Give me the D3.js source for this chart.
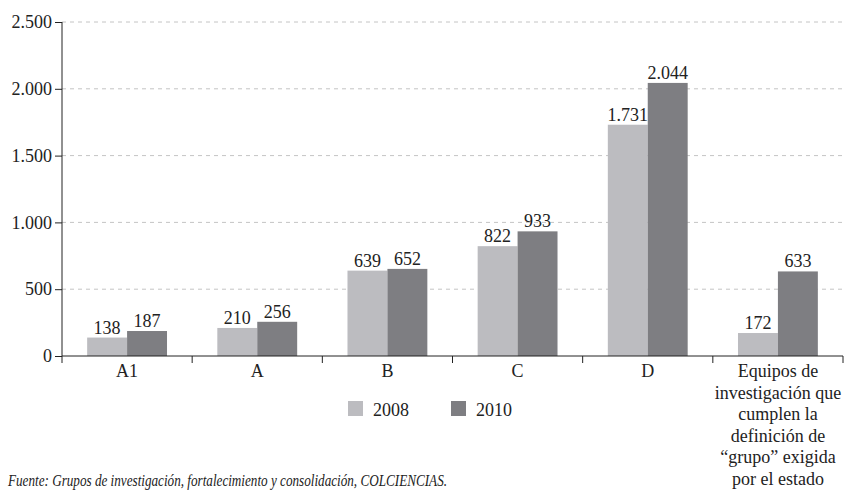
<!DOCTYPE html>
<html>
<head>
<meta charset="utf-8">
<script src="https://cdn.jsdelivr.net/npm/d3@7"></script>
<style>
  html, body { margin: 0; padding: 0; background: #fff; }
  svg { display: block; font-family: "Liberation Serif", "DejaVu Serif", serif; }
</style>
</head>
<body>
<svg id="chart" width="844" height="491"></svg>
<script>
// Research groups by category, 2008 vs 2010
const categories = ["A1", "A", "B", "C", "D",
  "Equipos de|investigación que|cumplen la|definición de|“grupo” exigida|por el estado"];
const series = ["2008", "2010"];
const values2008 = [138, 210, 639, 822, 1731, 172];
const values2010 = [187, 256, 652, 933, 2044, 633];
const yTicks = [0, 500, 1000, 1500, 2000, 2500];
const colors = ["#bcbcc0", "#7e7e82"];
const source = "Fuente: Grupos de investigación, fortalecimiento y consolidación, COLCIENCIAS.";

(function draw() {
  const svg = d3.select("#chart");
  const mLeft = 62, mRight = 843, mTop = 22, mBottom = 356;

  const fmt = d => d3.format(",")(d).replace(/,/g, ".");

  const x = d3.scaleBand().domain(d3.range(categories.length)).range([mLeft, mRight])
    .paddingInner(0).paddingOuter(0);
  const x1 = d3.scaleBand().domain(series).range([0, x.bandwidth()]).paddingInner(0)
    .paddingOuter(0.63);
  const y = d3.scaleLinear().domain([0, 2500]).range([mBottom, mTop]);

  // dashed gridlines
  svg.append("g").selectAll("line").data(yTicks.filter(d => d > 0)).join("line")
    .attr("x1", mLeft).attr("x2", 844)
    .attr("y1", d => y(d)).attr("y2", d => y(d))
    .attr("stroke", "#c4c4c4").attr("stroke-width", 1).attr("stroke-dasharray", "4,4");

  // bars
  const data = categories.map((c, i) => ({ i, vals: [values2008[i], values2010[i]] }));
  const groups = svg.append("g").selectAll("g").data(data).join("g")
    .attr("transform", d => `translate(${x(d.i)},0)`);
  groups.selectAll("rect").data(d => d.vals.map((v, k) => ({ v, k }))).join("rect")
    .attr("x", d => x1(series[d.k]))
    .attr("width", x1.bandwidth())
    .attr("y", d => y(d.v))
    .attr("height", d => y(0) - y(d.v))
    .attr("fill", d => colors[d.k]);
  groups.selectAll("text").data(d => d.vals.map((v, k) => ({ v, k }))).join("text")
    .attr("x", d => x1(series[d.k]) + x1.bandwidth() / 2)
    .attr("y", d => y(d.v) - 4)
    .attr("text-anchor", "middle")
    .attr("font-size", 18).attr("fill", "#222")
    .text(d => fmt(d.v));

  // y axis
  const yAxis = d3.axisLeft(y).tickValues(yTicks).tickFormat(fmt).tickSize(7).tickPadding(3);
  const gy = svg.append("g").attr("transform", `translate(${mLeft},0)`).call(yAxis);
  gy.select(".domain").attr("stroke", "#222").attr("d", `M0,${mTop}V${mBottom + 7}`);
  gy.selectAll(".tick line").attr("stroke", "#222");
  gy.selectAll(".tick text").attr("font-size", 18).attr("fill", "#222")
    .attr("font-family", "Liberation Serif, serif");

  // x axis baseline and boundary ticks
  const gx = svg.append("g");
  gx.append("line").attr("x1", mLeft).attr("x2", mRight).attr("y1", y(0)).attr("y2", y(0))
    .attr("stroke", "#222");
  gx.selectAll("line.b").data(d3.range(1, categories.length + 1)).join("line")
    .attr("class", "b")
    .attr("x1", d => d === categories.length ? mRight : x(d))
    .attr("x2", d => d === categories.length ? mRight : x(d))
    .attr("y1", y(0)).attr("y2", y(0) + 7).attr("stroke", "#222");

  // category labels
  const lab = gx.selectAll("text").data(categories).join("text")
    .attr("text-anchor", "middle").attr("font-size", 18).attr("fill", "#222")
    .attr("x", (d, i) => x(i) + x.bandwidth() / 2);
  lab.each(function(d) {
    const cx = d3.select(this).attr("x");
    d3.select(this).selectAll("tspan").data(d.split("|")).join("tspan")
      .attr("x", cx)
      .attr("y", (l, j) => 377 + j * 21.6)
      .text(l => l);
  });

  // legend
  const leg = svg.append("g").selectAll("g").data(series).join("g")
    .attr("transform", (d, i) => `translate(${348 + i * 103},401)`);
  leg.append("rect").attr("width", 15).attr("height", 15).attr("fill", (d, i) => colors[i]);
  leg.append("text").attr("x", 25).attr("y", 15).attr("font-size", 18).attr("fill", "#222")
    .text(d => d);

  // source note
  svg.append("text").attr("x", 8).attr("y", 486).attr("font-size", 16)
    .attr("font-style", "italic").attr("fill", "#222")
    .attr("textLength", 439).attr("lengthAdjust", "spacingAndGlyphs")
    .text(source);
})();
</script>
</body>
</html>
